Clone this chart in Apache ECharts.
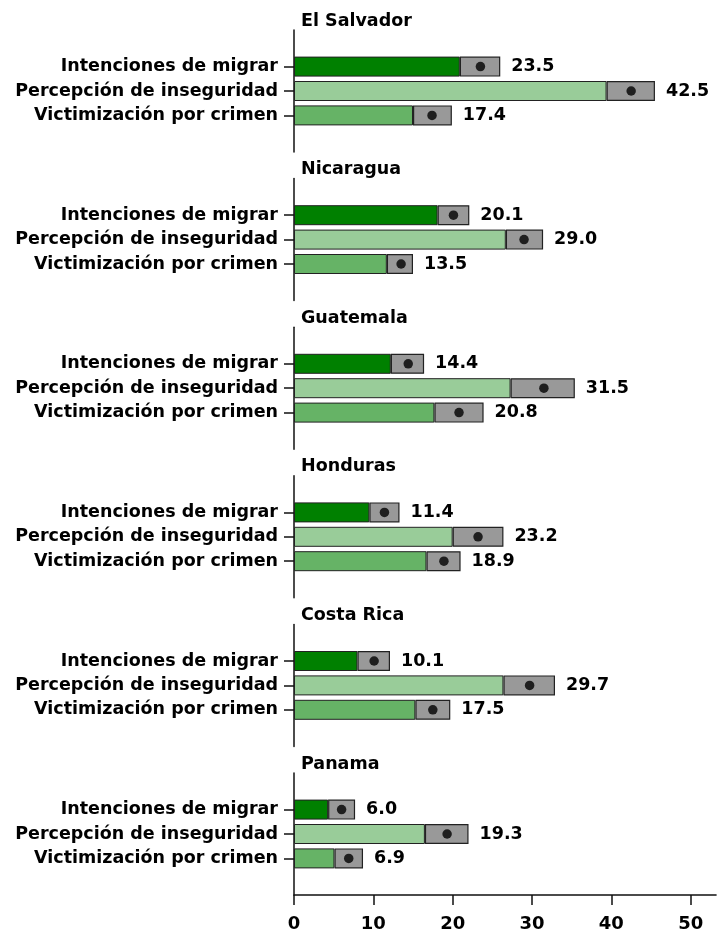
<!DOCTYPE html>
<html>
<head>
<meta charset="utf-8">
<script src="https://cdn.jsdelivr.net/npm/echarts@6/dist/echarts.min.js"></script>
<style>
html,body{margin:0;padding:0;background:#fff;}
#chart{width:725px;height:934px;}
</style>
</head>
<body>
<div id="chart"></div>
<script>
// ---- Data ----
const countries = ['El Salvador', 'Nicaragua', 'Guatemala', 'Honduras', 'Costa Rica', 'Panama'];
const indicators = ['Intenciones de migrar', 'Percepción de inseguridad', 'Victimización por crimen'];

const migrarEst  = [23.5, 20.1, 14.4, 11.4, 10.1, 6.0];
const migrarLow  = [20.9, 18.1, 12.2, 9.5, 8.0, 4.3];
const migrarHigh = [26.0, 22.1, 16.4, 13.3, 12.1, 7.7];

const percepEst  = [42.5, 29.0, 31.5, 23.2, 29.7, 19.3];
const percepLow  = [39.4, 26.7, 27.3, 20.0, 26.4, 16.5];
const percepHigh = [45.5, 31.4, 35.4, 26.4, 32.9, 22.0];

const victimEst  = [17.4, 13.5, 20.8, 18.9, 17.5, 6.9];
const victimLow  = [15.0, 11.7, 17.7, 16.7, 15.3, 5.1];
const victimHigh = [19.9, 15.0, 23.9, 21.0, 19.7, 8.7];

const xTicks = [0, 10, 20, 30, 40, 50];

// ---- Styling ----
const FONT = 'DejaVu Sans';
const barColors = ['#008000', '#99cc99', '#66b366'];
const greyColor = '#999999';
const borderCol = '#222222';
const X_MAX = 53.2;

const chart = echarts.init(document.getElementById('chart'), null, {renderer: 'canvas'});

const grids = [], xAxes = [], yAxes = [], series = [], titles = [];
const pitch = 148.6;
const catData = ['', indicators[0], indicators[1], indicators[2], ''];

countries.forEach((c, i) => {
  const top = 30 + pitch * i;
  const isLast = i === countries.length - 1;
  grids.push({left: 294, width: X_MAX * 7.933, top: top, height: 122, containLabel: false});
  titles.push({
    text: c, left: 296, top: top - 23,
    textStyle: {fontFamily: FONT, fontWeight: 'bold', fontSize: 17.5, color: '#000'}
  });
  xAxes.push({
    type: 'value', gridIndex: i, min: 0, max: X_MAX, interval: 10,
    show: isLast,
    axisLine: {show: true, lineStyle: {color: '#111', width: 1.5}},
    axisTick: {show: true, length: 10, customValues: xTicks, lineStyle: {color: '#111', width: 1.5}},
    axisLabel: {show: true, customValues: xTicks, margin: 20,
      fontFamily: FONT, fontWeight: 'bold', fontSize: 18, color: '#000'},
    splitLine: {show: false}
  });
  yAxes.push({
    type: 'category', gridIndex: i, data: catData, inverse: true,
    axisLine: {show: true, lineStyle: {color: '#111', width: 1.5}},
    axisTick: {show: true, alignWithLabel: true, length: 10,
      interval: (idx) => idx >= 1 && idx <= 3, lineStyle: {color: '#111', width: 1.5}},
    axisLabel: {show: true, margin: 16, interval: 0,
      fontFamily: FONT, fontWeight: 'bold', fontSize: 17.5, color: '#000'},
    splitLine: {show: false}
  });

  const lows = [migrarLow[i], percepLow[i], victimLow[i]];
  const highs = [migrarHigh[i], percepHigh[i], victimHigh[i]];
  const ests = [migrarEst[i], percepEst[i], victimEst[i]];

  const lowData = [null];
  const ciData = [null];
  const dotData = [];
  for (let k = 0; k < 3; k++) {
    lowData.push({value: lows[k], itemStyle: {color: barColors[k]}});
    ciData.push({value: +(highs[k] - lows[k]).toFixed(2)});
    dotData.push([ests[k], k + 1]);
  }
  lowData.push(null);
  ciData.push(null);

  series.push({
    type: 'bar', xAxisIndex: i, yAxisIndex: i, stack: 's' + i,
    barWidth: 20, data: lowData, silent: true,
    itemStyle: {borderColor: borderCol, borderWidth: 1}
  });
  series.push({
    type: 'bar', xAxisIndex: i, yAxisIndex: i, stack: 's' + i,
    barWidth: 20, data: ciData, silent: true,
    itemStyle: {color: greyColor, borderColor: borderCol, borderWidth: 1.2},
    label: {
      show: true, position: 'right', distance: 11,
      fontFamily: FONT, fontWeight: 'bold', fontSize: 17.5, color: '#000',
      formatter: (p) => ests[p.dataIndex - 1].toFixed(1)
    }
  });
  series.push({
    type: 'scatter', xAxisIndex: i, yAxisIndex: i, data: dotData,
    symbol: 'circle', symbolSize: 9.5, silent: true,
    itemStyle: {color: '#000'}, z: 5
  });
});

chart.setOption({
  animation: false,
  backgroundColor: '#fff',
  title: titles,
  grid: grids,
  xAxis: xAxes,
  yAxis: yAxes,
  series: series
});
</script>
</body>
</html>
